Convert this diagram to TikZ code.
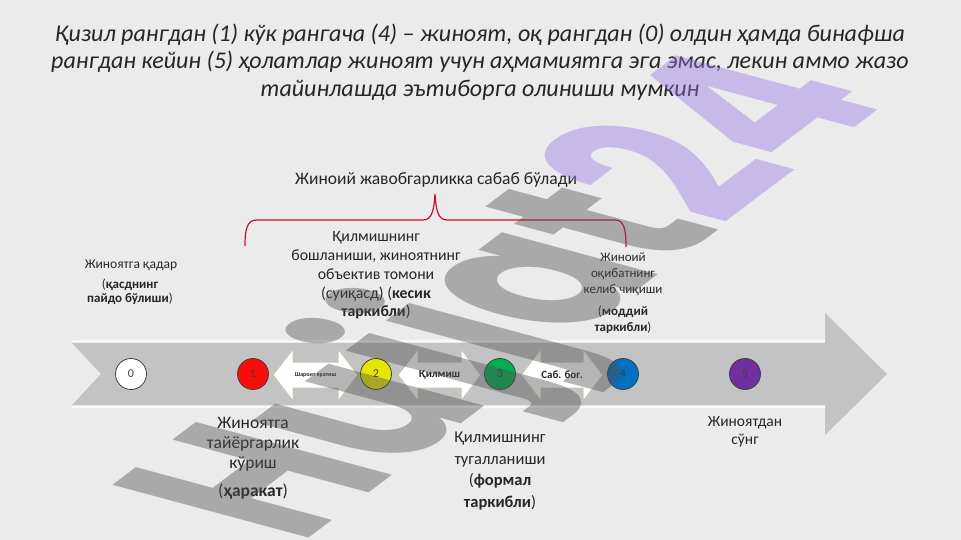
\documentclass[tikz,border=0pt]{standalone}
\usepackage{fontspec}
\setmainfont{Carlito}
\newfontfamily\wmfont{Poppins}
\definecolor{bgc}{HTML}{EBEBEB}
\definecolor{txt}{HTML}{262626}
\definecolor{bandc}{HTML}{C3C3C3}
\definecolor{bracec}{HTML}{C8102E}
\definecolor{arrline}{HTML}{BFCBAE}
\definecolor{c0}{HTML}{FFFFFF}
\definecolor{c1}{HTML}{FF0A0A}
\definecolor{c2}{HTML}{E6E600}
\definecolor{c3}{HTML}{00B050}
\definecolor{c4}{HTML}{0070C0}
\definecolor{c5}{HTML}{7030A0}
\definecolor{wmgrey}{HTML}{505050}
\definecolor{wmpurple}{RGB}{151,120,231}
\tikzset{
  dot/.style={circle, minimum size=31pt, inner sep=0pt, draw=black!75, line width=0.8pt,
    font=\fontsize{12}{12}\selectfont, text=black!75},
  arrbox/.style={fill=white, draw=arrline, line width=1pt, line join=miter},
  arrlabel/.style={font=\bfseries\fontsize{11}{11}\selectfont, text=txt, inner sep=0pt},
  lbl/.style={align=center, text=txt, inner sep=0pt},
}
\begin{document}
\begin{tikzpicture}[x=1pt,y=-1pt]
\fill[bgc] (0,0) rectangle (961,540);
\useasboundingbox (0,0) rectangle (961,540);

% title
\node[lbl, font=\fontsize{24}{27.5}\selectfont\itshape] (title) at (480,62)
{Қизил рангдан (1) кўк рангача (4) – жиноят, оқ рангдан (0) олдин ҳамда бинафша\\
рангдан кейин (5) ҳолатлар жиноят учун аҳмамиятга эга эмас, лекин аммо жазо\\
тайинлашда эътиборга олиниши мумкин};

% main band arrow
\fill[bandc] (72,343) -- (825,343) -- (825,313) -- (887,374) -- (825,435) -- (825,405)
  -- (72,405) -- (101,374) -- cycle;
\draw[white, opacity=0.7, line width=1.5pt] (72,341) -- (825,341);
\draw[white, opacity=0.7, line width=1.5pt] (72,407) -- (825,407);

% double arrows
\draw[arrbox] (273,375) -- (293,349) -- (293,362) -- (338,362) -- (338,349) -- (358,375)
  -- (338,401) -- (338,388) -- (293,388) -- (293,401) -- cycle;
\draw[arrbox] (398,375) -- (418,349) -- (418,362) -- (461,362) -- (461,349) -- (481,375)
  -- (461,401) -- (461,388) -- (418,388) -- (418,401) -- cycle;
\draw[arrbox] (521,375) -- (541,349) -- (541,362) -- (583,362) -- (583,349) -- (603,375)
  -- (583,401) -- (583,388) -- (541,388) -- (541,401) -- cycle;
\node[arrlabel, font=\bfseries\fontsize{6}{6}\selectfont] (a1) at (315.5,375) {Шароит яратиш};
\node[arrlabel] (a2) at (439.5,375) {Қилмиш};
\node[arrlabel] (a3) at (562,375) {Саб. бог.};

% circles
\node[dot, fill=c0] (n0) at (131,374) {0};
\node[dot, fill=c1] (n1) at (253,374) {1};
\node[dot, fill=c2] (n2) at (376,374) {2};
\node[dot, fill=c3] (n3) at (500,374) {3};
\node[dot, fill=c4] (n4) at (623,374) {4};
\node[dot, fill=c5] (n5) at (745,374) {5};

% brace
\draw[bracec, line width=1.2pt] (245,246) .. controls (245,229) and (247,220) .. (257,220)
  -- (423,220) .. controls (432,220) and (434,210) .. (435,194)
  .. controls (436,210) and (438,220) .. (447,220)
  -- (615,220) .. controls (624,220) and (626,229) .. (626,247);
\node[lbl, font=\fontsize{17.5}{20}\selectfont] (resp) at (436,180) {Жиноий жавобгарликка сабаб бўлади};

% upper labels
\node[lbl, font=\fontsize{13.5}{16}\selectfont] (pre) at (131,265) {Жиноятга қадар};
\node[lbl, font=\fontsize{13}{14.5}\selectfont] (pre2) at (130,292) {(\textbf{қасднинг}\\ \textbf{пайдо бўлиши})};
\node[lbl, font=\fontsize{15.8}{18.8}\selectfont] (att) at (376,275.5)
{Қилмишнинг\\ бошланиши, жиноятнинг\\ объектив томони\\ (суиқасд) (\textbf{кесик}\\ \textbf{таркибли})};
\node[lbl, font=\fontsize{13}{16}\selectfont] (cons) at (623,274) {Жиноий\\ оқибатнинг\\ келиб чиқиши};
\node[lbl, font=\fontsize{13}{16}\selectfont] (cons2) at (623,320) {(\textbf{моддий}\\ \textbf{таркибли})};

% lower labels
\node[lbl, font=\fontsize{17.5}{20}\selectfont] (prep) at (253,444) {Жиноятга\\ тайёргарлик\\ кўриш};
\node[lbl, font=\fontsize{17.5}{20}\selectfont] (prep2) at (253,492) {(\textbf{ҳаракат})};
\node[lbl, font=\fontsize{16.5}{21.7}\selectfont] (done) at (500,471)
{Қилмишнинг\\ тугалланиши\\ (\textbf{формал}\\ \textbf{таркибли})};
\node[lbl, font=\fontsize{15.5}{18}\selectfont] (after) at (745,432) {Жиноятдан\\ сўнг};

% watermark (rotated and slanted)
\begin{scope}[shift={(300,545)}]
\node[cm={0.639,0.481,-1.30,0.35,(0,0)}, anchor=base west, text opacity=0.42, inner sep=0pt,
  font=\wmfont\bfseries\fontsize{215}{215}\selectfont]
  (wm) at (0,0) {\textcolor{wmgrey}{Hujjat}\textcolor{wmpurple}{24}};
\end{scope}
\end{tikzpicture}
\end{document}
